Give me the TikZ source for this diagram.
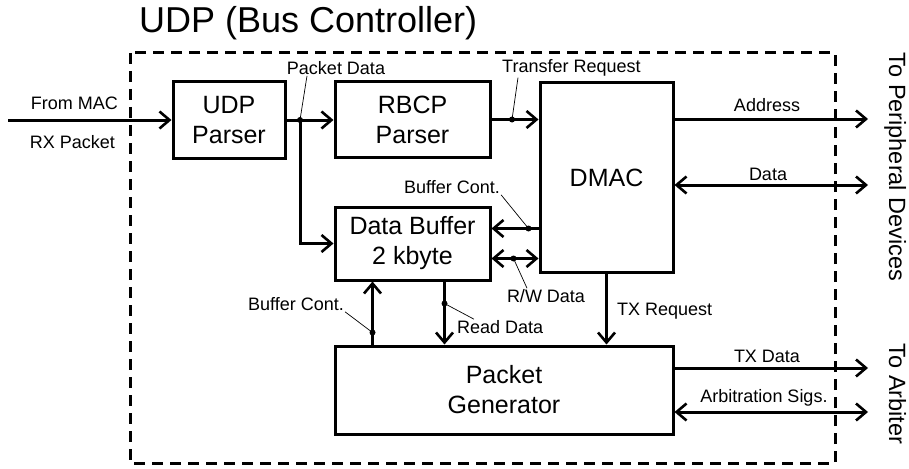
\documentclass[tikz,border=0pt]{standalone}
\usepackage{fontspec}
\setmainfont{Liberation Sans}
\usetikzlibrary{positioning}
\usetikzlibrary{calc}
\usetikzlibrary{arrows.meta}

\begin{document}
\begin{tikzpicture}[x=1pt,y=-1pt,
  blok/.style={draw,line width=3pt,inner sep=0pt,align=center,font=\fontsize{25}{30}\selectfont},
  sig/.style={line width=3pt,-{Straight Barb[length=10pt,width=17pt,line width=2.6pt]}},
  bidi/.style={line width=3pt,{Straight Barb[length=10pt,width=17pt,line width=2.6pt]}-{Straight Barb[length=10pt,width=17pt,line width=2.6pt]}},
  lab/.style={inner sep=1pt,font=\fontsize{18}{20}\selectfont},
  leader/.style={line width=0.7pt},
  side/.style={rotate=-90,anchor=base,inner sep=0pt,font=\fontsize{23.5}{26}\selectfont}]
\useasboundingbox (0,0) rectangle (909,468);

%ramka kontrolera
\draw[line width=3pt,dash pattern=on 11pt off 7pt] (130,53) rectangle (835,463);
\node[anchor=base west,inner sep=0pt,font=\fontsize{36}{40}\selectfont] (title) at (139,33) {UDP (Bus Controller)};

%bloki
\node[blok,minimum width=112pt,minimum height=76pt] (udp) at (229,120) {UDP\\Parser};
\node[blok,minimum width=155pt,minimum height=75pt] (rbcp) at (412.5,119.5) {RBCP\\Parser};
\node[blok,minimum width=133pt,minimum height=189pt] (dmac) at (606.5,177.5) {DMAC};
\node[blok,minimum width=155pt,minimum height=73pt] (buf) at (412.5,243.5) {Data Buffer\\2 kbyte};
\node[blok,minimum width=338pt,minimum height=88pt] (gen) at (504,390) {Packet\\Generator};

%wyjscia
\node[side] (per) at (889,167) {To Peripheral Devices};
\node[side] (arb) at (889,394) {To Arbiter};

%wejscie
\coordinate (mac) at (8,120);
\draw[sig] (mac) -- (mac -| udp.west);
\node[lab,anchor=east] (lmac) at (119,103) {From MAC};
\node[lab,anchor=east] (lrx) at (116,142) {RX Packet};

%sciezka pakietu
\coordinate (pd) at (300,120);
\coordinate (tr) at (512,119.5);
\draw[sig] (udp.east) -- (udp.east -| rbcp.west);
\draw[sig] (pd) |- (buf.west);
\draw[sig] (rbcp.east) -- (rbcp.east -| dmac.west);

%szyna
\coordinate (addr) at (868,119);
\coordinate (data) at (868,185);
\coordinate (txd) at (868,368);
\coordinate (arbs) at (868,412);
\draw[sig] (addr -| dmac.east) -- (addr);
\draw[bidi] (data -| dmac.east) -- (data);
\draw[sig] (txd -| gen.east) -- (txd);
\draw[bidi] (arbs -| gen.east) -- (arbs);

%bufor
\coordinate (bc) at ($(buf.east)+(0,-15)$);
\coordinate (rw) at ($(buf.east)+(0,15)$);
\coordinate (bcl) at ($(buf.south)+(-40,0)$);
\coordinate (rd) at ($(buf.south)+(32,0)$);
\draw[sig] (bc -| dmac.west) -- (bc);
\draw[bidi] (rw) -- (rw -| dmac.west);
\draw[sig] (bcl |- gen.north) -- (bcl);
\draw[sig] (rd) -- (rd |- gen.north);
\draw[sig] (dmac.south) -- (dmac.south |- gen.north);

%punkty
\coordinate (bcd) at ($(bc)+(37,0)$);
\coordinate (rwd) at ($(rw)+(22,0)$);
\coordinate (bcld) at ($(bcl)+(0,51)$);
\coordinate (rdd) at ($(rd)+(0,22)$);
\foreach \p in {(pd),(tr),(bcd),(rwd),(bcld),(rdd)}
  \fill \p circle (3pt);

%opisy
\node[lab] (lpd) at (336,68) {Packet Data};
\node[lab,anchor=west] (ltr) at (501,68) {Transfer Request};
\node[lab] (laddr) at (767,105) {Address};
\node[lab] (ldata) at (768,174) {Data};
\node[lab] (lbc) at (452,187) {Buffer Cont.};
\node[lab] (lrw) at (546,296) {R/W Data};
\node[lab] (lbcl) at (296,304) {Buffer Cont.};
\node[lab,anchor=west] (lrd) at (456,327) {Read Data};
\node[lab,anchor=west] (ltx) at (616,311) {TX Request};
\node[lab] (ltxd) at (767,356) {TX Data};
\node[lab] (larb) at (764,398) {Arbitration Sigs.};

\draw[leader] (pd) -- ([xshift=-29pt]lpd.south);
\draw[leader] (tr) -- ([xshift=17pt]ltr.south west);
\draw[leader] (bcd) -- (lbc.south east);
\draw[leader] (rwd) -- ([xshift=-19pt]lrw.north);
\draw[leader] (bcld) -- (lbcl.south east);
\draw[leader] (rdd) -- ([xshift=18pt]lrd.north west);
\end{tikzpicture}
\end{document}
